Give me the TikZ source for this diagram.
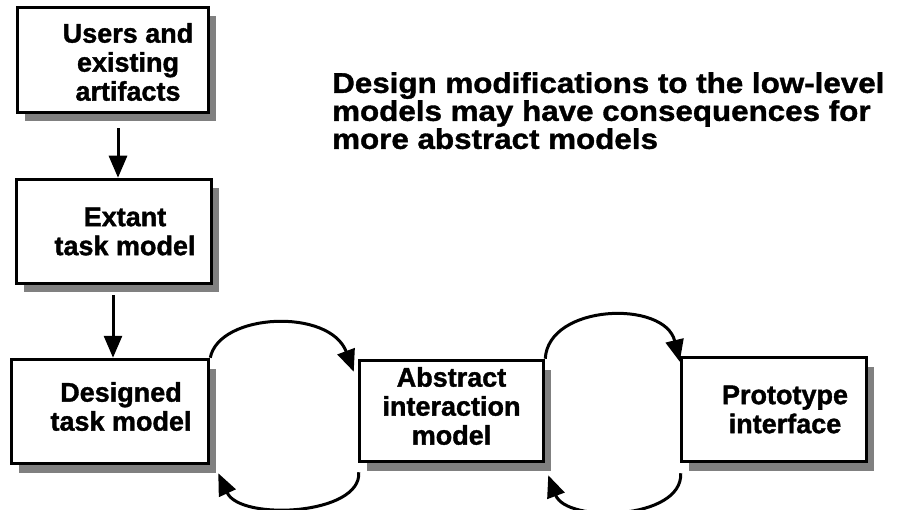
\documentclass[tikz,border=0pt]{standalone}
\usepackage{fontspec}
\setmainfont[BoldFeatures={FakeBold=1.3}]{Liberation Sans}
\newfontfamily\headfam[FakeStretch=1.1, BoldFeatures={FakeBold=1.3}]{Liberation Sans}
\usetikzlibrary{arrows.meta,calc,shadows}
\newcommand\headingfont{\headfam\bfseries\fontsize{28.5}{28}\selectfont\setlength{\lineskiplimit}{-20pt}}

\begin{document}
\begin{tikzpicture}[x=1pt,y=-1pt,
  box/.style={draw=black, line width=3.5pt, fill=white, inner sep=0pt,
    general shadow={fill=black!50, shadow xshift=7pt, shadow yshift=-9pt}},
  boxtext/.style={font=\bfseries\fontsize{27}{29}\selectfont, align=center, inner sep=0pt},
  flow/.style={line width=3pt, -{Triangle[length=22pt,width=18pt]}},
  ]
\useasboundingbox (0,0) rectangle (904,510);

% boxes
\node[box, minimum width=191pt, minimum height=105pt] (b1) at (113,60) {};
\node[box, minimum width=195pt, minimum height=104pt] (b2) at (114,231.5) {};
\node[box, minimum width=197pt, minimum height=104pt] (b3) at (110,411.5) {};
\node[box, minimum width=184pt, minimum height=101pt] (b4) at (451.5,411) {};
\node[box, minimum width=185pt, minimum height=104pt] (b5) at (774,409.5) {};

% box labels
\node[boxtext] (t1) at ($(b1)+(15,2)$) {Users and\\existing\\artifacts};
\node[boxtext] (t2) at ($(b2)+(11,0)$) {Extant\\task model};
\node[boxtext] (t3) at ($(b3)+(11,-5)$) {Designed\\task model};
\node[boxtext] (t4) at ($(b4)+(0,-5)$) {Abstract\\interaction\\model};
\node[boxtext] (t5) at ($(b5)+(11,0)$) {Prototype\\interface};

% heading
\node[font=\headingfont, align=left, anchor=north west, inner sep=0pt] (title) at (332,72)
  {Design modifications to the low-level\\models may have consequences for\\more abstract models};

% vertical flow
\draw[flow] ($(b1.south)+(5,14)$) -- ($(b2.north)+(4,0)$);
\draw[flow] ($(b2.south)+(-1,10)$) -- ($(b3.north)+(3,0)$);

% iteration loops
\draw[flow] (b3.north east) .. controls +(9,-45) and +(-24,-64) .. ($(b4.north west)+(-4,13)$);
\draw[flow] ($(b4.south west)+(1,9)$) .. controls +(3,43) and +(22,48) .. ($(b3.south east)+(8,8)$);
\draw[flow] (b4.north east) .. controls +(3,-55) and +(-15,-62) .. ($(b5.north west)+(0,6)$);
\draw[flow] ($(b5.south west)+(1,10)$) .. controls +(2,47) and +(18,48) .. ($(b4.south east)+(3,12)$);
\end{tikzpicture}
\end{document}
